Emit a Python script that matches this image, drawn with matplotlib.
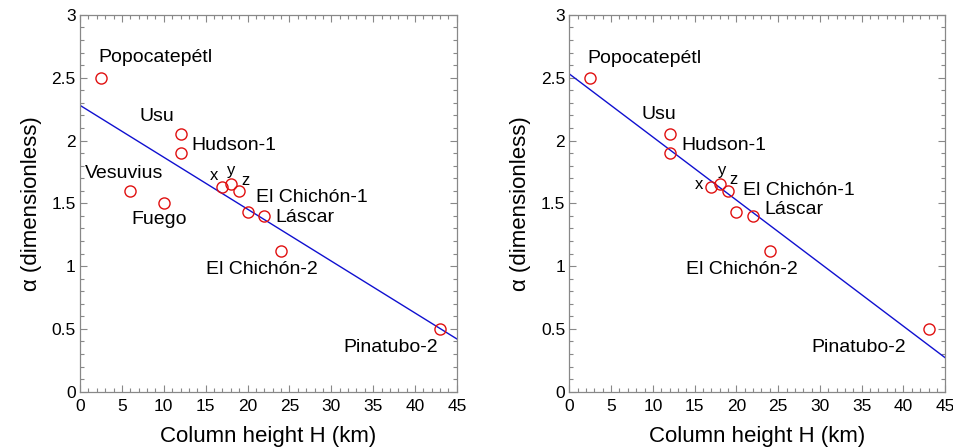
import numpy as np
import matplotlib.pyplot as plt
from matplotlib.ticker import MultipleLocator

plt.rcParams['font.family'] = ['Liberation Sans', 'DejaVu Sans']

# Column height H (km) and alpha for each eruption
names_left = ['Popocatepétl', 'Vesuvius', 'Fuego', 'Usu', 'Hudson-1', 'x', 'y', 'z',
              'El Chichón-1', 'Láscar', 'El Chichón-2', 'Pinatubo-2']
H_left = [2.5, 6, 10, 12, 12, 17, 18, 19, 20, 22, 24, 43]
alpha_left = [2.5, 1.6, 1.5, 2.05, 1.9, 1.63, 1.65, 1.6, 1.43, 1.4, 1.12, 0.5]
fit_left = [2.28, 0.42]   # alpha at H=0 and H=45

names_right = ['Popocatepétl', 'Usu', 'Hudson-1', 'x', 'y', 'z',
               'El Chichón-1', 'Láscar', 'El Chichón-2', 'Pinatubo-2']
H_right = [2.5, 12, 12, 17, 18, 19, 20, 22, 24, 43]
alpha_right = [2.5, 2.05, 1.9, 1.63, 1.65, 1.6, 1.43, 1.4, 1.12, 0.5]
fit_right = [2.53, 0.27]

# label anchor positions (data coords), left aligned unless noted
lab_left = {'Popocatepétl': (2.15, 2.66, 'left'), 'Vesuvius': (0.6, 1.74, 'left'),
            'Fuego': (6.1, 1.37, 'left'), 'Usu': (7.1, 2.19, 'left'),
            'Hudson-1': (13.3, 1.96, 'left'), 'x': (16.0, 1.725, 'center'),
            'y': (18.0, 1.76, 'center'), 'z': (19.8, 1.68, 'center'),
            'El Chichón-1': (21.0, 1.545, 'left'), 'Láscar': (23.3, 1.39, 'left'),
            'El Chichón-2': (15.05, 0.97, 'left'), 'Pinatubo-2': (31.5, 0.35, 'left')}
lab_right = {'Popocatepétl': (2.16, 2.65, 'left'), 'Usu': (8.6, 2.21, 'left'),
             'Hudson-1': (13.4, 1.96, 'left'), 'x': (15.5, 1.65, 'center'),
             'y': (18.3, 1.76, 'center'), 'z': (19.6, 1.69, 'center'),
             'El Chichón-1': (20.75, 1.6, 'left'), 'Láscar': (23.3, 1.45, 'left'),
             'El Chichón-2': (14.0, 0.97, 'left'), 'Pinatubo-2': (29.0, 0.35, 'left')}

fig = plt.figure(figsize=(9.54, 4.48), dpi=100)
ax1 = fig.add_axes([0.0839, 0.1257, 0.395, 0.841])
ax2 = fig.add_axes([0.5968, 0.1257, 0.394, 0.841])

for ax, names, H, a, fit, labs in [(ax1, names_left, H_left, alpha_left, fit_left, lab_left),
                                    (ax2, names_right, H_right, alpha_right, fit_right, lab_right)]:
    ax.plot([0, 45], fit, color='#1010d0', lw=1.0, zorder=2)
    ax.plot(H, a, 'o', mfc='none', mec='#e01010', ms=8, mew=1.0, zorder=3)
    for n in names:
        tx, ty, ha = labs[n]
        ax.text(tx, ty, n, ha=ha, va='center', fontsize=14 if len(n) > 1 else 12)
    ax.set_xlim(0, 45)
    ax.set_ylim(0, 3)
    ax.xaxis.set_major_locator(MultipleLocator(5))
    ax.xaxis.set_minor_locator(MultipleLocator(1))
    ax.yaxis.set_major_locator(MultipleLocator(0.5))
    ax.yaxis.set_minor_locator(MultipleLocator(0.1))
    ax.set_yticks([0, 0.5, 1, 1.5, 2, 2.5, 3])
    ax.set_yticklabels(['0', '0.5', '1', '1.5', '2', '2.5', '3'])
    ax.tick_params(which='both', direction='in', top=True, right=True, color='#888888',
                   labelsize=12.5)
    ax.tick_params(axis='x', pad=5)
    ax.tick_params(axis='y', pad=3)
    ax.tick_params(which='major', length=5, width=0.8)
    ax.tick_params(which='minor', length=3, width=0.8)
    for s in ax.spines.values():
        s.set_color('#888888')
        s.set_linewidth(0.9)
    ax.set_xlabel('Column height H (km)', fontsize=16, labelpad=9)
    ax.set_ylabel('α (dimensionless)', fontsize=16, labelpad=7)

fig.savefig('out.png', dpi=100)
